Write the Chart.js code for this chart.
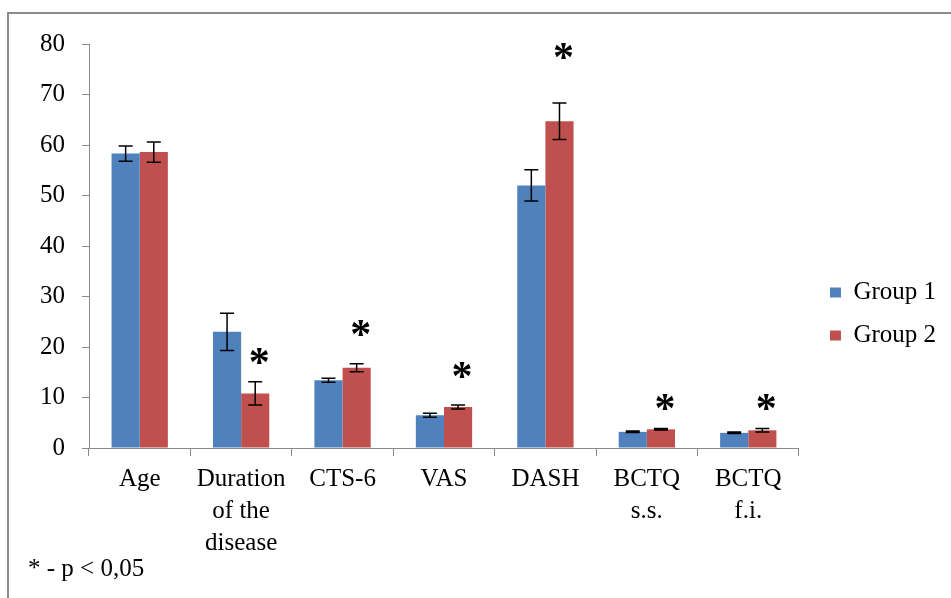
<!DOCTYPE html>
<html>
<head>
<meta charset="utf-8">
<script src="https://cdn.jsdelivr.net/npm/chart.js@4/dist/chart.umd.min.js"></script>
<style>
html,body{margin:0;padding:0;background:#fff;}
#wrap{position:relative;width:951px;height:598px;overflow:hidden;background:#fff;}
#frame{position:absolute;left:7px;top:12px;right:-4px;bottom:-4px;border-top:2px solid #8c8c8c;border-left:2px solid #8c8c8c;}
canvas{position:absolute;left:0;top:0;}
</style>
</head>
<body>
<div id="wrap"><div id="frame"></div><canvas id="c" width="951" height="598"></canvas></div>
<script>
// ---- data ----
const categories = ["Age", ["Duration", "of the", "disease"], "CTS-6", "VAS", "DASH", ["BCTQ", "s.s."], ["BCTQ", "f.i."]];
const seriesNames = ["Group 1", "Group 2"];
const group1 = [58.3, 23.0, 13.4, 6.5, 52.0, 3.2, 3.0];
const group1Err = [1.5, 3.7, 0.4, 0.4, 3.1, 0.15, 0.15];
const group2 = [58.6, 10.8, 15.9, 8.1, 64.7, 3.7, 3.5];
const group2Err = [2.0, 2.3, 0.8, 0.4, 3.6, 0.15, 0.35];
// significance marks (value level of the "*" above each group; null = none)
const sigMarks = [null, 18.2, 23.8, 15.4, 78.6, 9.2, 9.2];
const footnote = "* - p < 0,05";
const yMin = 0, yMax = 80, yStep = 10;

const errors = [group1Err, group2Err];

Chart.defaults.font.family = "'Liberation Serif', 'Times New Roman', serif";
Chart.defaults.color = '#000';

const errorBarPlugin = {
  id: 'errorBars',
  afterDatasetsDraw(chart) {
    const ctx = chart.ctx;
    const yScale = chart.scales.y;
    ctx.save();
    ctx.strokeStyle = '#000';
    ctx.lineWidth = 1.5;
    chart.data.datasets.forEach((ds, i) => {
      const meta = chart.getDatasetMeta(i);
      meta.data.forEach((bar, j) => {
        const v = ds.data[j], e = errors[i][j];
        const yTop = yScale.getPixelForValue(v + e);
        const yBot = yScale.getPixelForValue(v - e);
        const x = bar.x, cap = 7;
        ctx.beginPath();
        ctx.moveTo(x, yTop); ctx.lineTo(x, yBot);
        ctx.moveTo(x - cap, yTop); ctx.lineTo(x + cap, yTop);
        ctx.moveTo(x - cap, yBot); ctx.lineTo(x + cap, yBot);
        ctx.stroke();
      });
    });
    ctx.restore();
  }
};

const sigPlugin = {
  id: 'sigMarks',
  afterDatasetsDraw(chart) {
    const ctx = chart.ctx;
    const yScale = chart.scales.y;
    const meta = chart.getDatasetMeta(1);
    ctx.save();
    ctx.fillStyle = '#000';
    ctx.font = "bold 42px 'Liberation Serif', serif";
    ctx.textAlign = 'center';
    ctx.textBaseline = 'alphabetic';
    const m = ctx.measureText('*');
    const shift = (m.actualBoundingBoxAscent - m.actualBoundingBoxDescent) / 2;
    sigMarks.forEach((s, j) => {
      if (s === null) return;
      const x = meta.data[j].x + 4;
      const y = yScale.getPixelForValue(s);
      ctx.fillText('*', x, y + shift);
    });
    ctx.restore();
  }
};

new Chart(document.getElementById('c'), {
  type: 'bar',
  data: {
    labels: categories,
    datasets: [
      { label: seriesNames[0], data: group1, backgroundColor: '#4F81BD', borderWidth: 0 },
      { label: seriesNames[1], data: group2, backgroundColor: '#C0504D', borderWidth: 0 }
    ]
  },
  options: {
    responsive: false,
    animation: false,
    devicePixelRatio: 1,
    layout: { padding: { left: 28, top: 44, right: 4.9, bottom: 14 } },
    datasets: { bar: { barPercentage: 1, categoryPercentage: 0.555 } },
    scales: {
      x: {
        grid: { display: true, drawOnChartArea: false, drawTicks: true, tickLength: 8, color: '#8a8a8a', offset: true },
        border: { display: true, color: '#8a8a8a', width: 1 },
        ticks: { font: { size: 25, lineHeight: 1.28 }, color: '#000', padding: 7, maxRotation: 0, autoSkip: false },
        afterFit(s) { s.height = 106; }
      },
      y: {
        min: yMin, max: yMax,
        grid: { display: true, drawOnChartArea: false, drawTicks: true, tickLength: 7, color: '#8a8a8a' },
        border: { display: true, color: '#8a8a8a', width: 1 },
        ticks: { stepSize: yStep, font: { size: 25 }, color: '#000', padding: 17 },
        afterFit(s) { s.width = 61; }
      },
      gap: {
        type: 'linear', position: 'right', display: true,
        grid: { display: false }, border: { display: false }, ticks: { display: false },
        afterFit(s) { s.width = 13; }
      }
    },
    plugins: {
      legend: {
        position: 'right',
        labels: { font: { size: 25 }, color: '#000', boxWidth: 11, boxHeight: 10, padding: 18 }
      },
      title: {
        display: true, position: 'bottom', align: 'start', text: footnote,
        font: { size: 25, weight: 'normal', lineHeight: 1.2 }, color: '#000', padding: 0
      },
      tooltip: { enabled: false }
    }
  },
  plugins: [errorBarPlugin, sigPlugin]
});
</script>
</body>
</html>
